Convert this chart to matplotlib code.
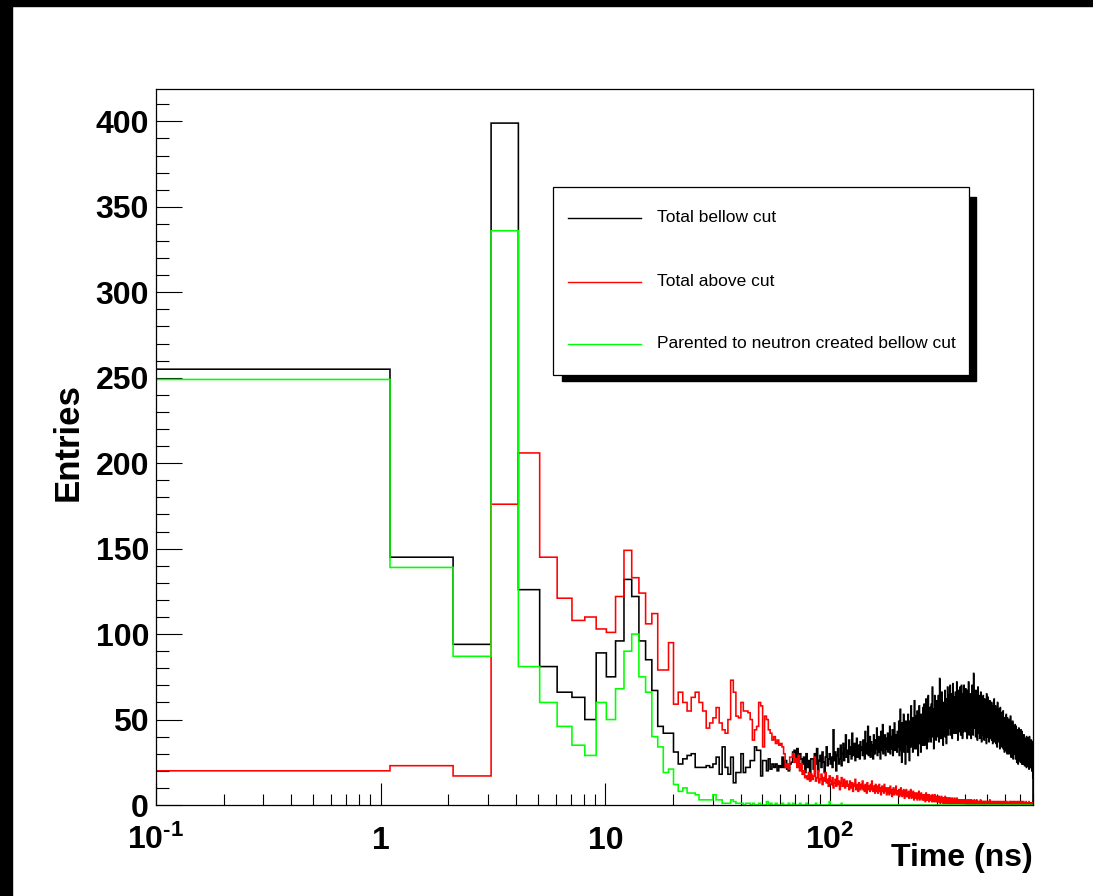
import numpy as np
import matplotlib
matplotlib.use("Agg")
import matplotlib.pyplot as plt
from matplotlib.patches import Rectangle
from matplotlib.lines import Line2D

plt.rcParams["font.family"] = ["Liberation Sans", "DejaVu Sans"]
plt.rcParams["mathtext.fontset"] = "custom"
plt.rcParams["mathtext.rm"] = "Liberation Sans:bold"
plt.rcParams["mathtext.it"] = "Liberation Sans:bold"
plt.rcParams["mathtext.bf"] = "Liberation Sans:bold"

# 1 ns wide bins starting at 0.1 ns
t_start = 0.1
t_bin = 1.0

series_names = [
    "Total bellow cut",
    "Total above cut",
    "Parented to neutron created bellow cut",
]
series_colors = ["black", "#ff0000", "#00ff00"]

black_counts = [
    255, 145, 94, 399, 126, 81, 66, 63, 50, 89, 75, 96, 132, 122, 96, 85, 67, 46, 42, 42,
    31, 24, 27, 29, 30, 22, 22, 22, 23, 22, 24, 28, 18, 34, 22, 18, 28, 13, 19, 19,
    30, 19, 22, 22, 26, 26, 34, 32, 32, 17, 26, 26, 20, 27, 21, 24, 22, 24, 20, 23,
    22, 28, 22, 26, 21, 20, 24, 25, 31, 32, 28, 33, 24, 30, 27, 24, 28, 19, 30, 22,
    26, 18, 27, 27, 21, 30, 24, 33, 20, 26, 29, 22, 31, 25, 19, 28, 34, 23, 27, 30,
    24, 28, 22, 44, 26, 31, 20, 29, 33, 24, 27, 35, 23, 30, 36, 26, 33, 41, 28, 32,
    25, 38, 30, 34, 27, 42, 29, 33, 36, 26, 31, 39, 28, 35, 30, 27, 37, 32, 34, 29,
    38, 31, 27, 43, 35, 30, 36, 46, 29, 33, 40, 28, 37, 32, 35, 27, 41, 34, 30, 38,
    33, 45, 29, 36, 40, 31, 38, 27, 43, 35, 32, 47, 30, 37, 34, 41, 29, 36, 39, 33,
    42, 31, 38, 35, 46, 30, 40, 36, 33, 44, 29, 39, 37, 48, 32, 41, 35, 38, 31, 43,
    34, 41, 49, 29, 37, 56, 32, 42, 25, 48, 39, 34, 53, 31, 44, 37, 24, 49, 41, 36,
    44, 31, 53, 38, 43, 26, 49, 40, 34, 58, 36, 46, 41, 31, 51, 44, 38, 61, 33, 48,
    38, 52, 33, 45, 55, 41, 29, 48, 40, 58, 36, 46, 43, 31, 53, 45, 38, 50, 35, 57,
    40, 47, 59, 35, 50, 43, 38, 62, 45, 33, 54, 42, 48, 64, 37, 47, 52, 40, 57, 43,
    49, 37, 59, 45, 52, 69, 40, 47, 56, 33, 50, 44, 64, 42, 54, 49, 38, 61, 47, 52,
    44, 56, 40, 64, 49, 37, 52, 74, 46, 51, 59, 39, 54, 47, 66, 42, 51, 57, 35, 56,
    48, 60, 43, 52, 67, 40, 55, 47, 62, 36, 50, 58, 45, 69, 48, 53, 41, 64, 50, 45,
    56, 46, 70, 49, 41, 61, 53, 48, 65, 39, 54, 51, 71, 44, 60, 49, 42, 63, 53, 58,
    47, 66, 54, 42, 61, 50, 72, 45, 57, 52, 38, 64, 54, 49, 67, 43, 59, 55, 47, 69,
    50, 41, 62, 53, 70, 46, 56, 51, 39, 65, 55, 48, 60, 43, 70, 51, 56, 44, 63, 53,
    48, 68, 43, 58, 53, 46, 62, 39, 67, 55, 50, 60, 44, 72, 51, 56, 41, 63, 53, 48,
    58, 44, 65, 51, 39, 61, 55, 48, 70, 43, 56, 50, 63, 41, 53, 77, 46, 60, 51, 67,
    45, 55, 49, 62, 40, 59, 52, 67, 43, 54, 47, 61, 38, 57, 50, 69, 42, 54, 49, 64,
    44, 58, 53, 39, 63, 49, 54, 42, 66, 48, 56, 51, 37, 61, 53, 46, 60, 41, 54, 49,
    64, 43, 53, 48, 59, 38, 52, 62, 45, 55, 50, 40, 60, 47, 57, 53, 36, 65, 48, 52,
    44, 56, 51, 40, 63, 47, 54, 42, 59, 49, 37, 58, 46, 52, 61, 39, 51, 47, 56, 44,
    53, 41, 50, 60, 38, 48, 57, 45, 51, 36, 55, 46, 58, 43, 50, 40, 53, 62, 45, 48,
    43, 53, 37, 48, 58, 44, 49, 36, 54, 46, 41, 56, 44, 51, 34, 48, 60, 43, 46, 39,
    50, 42, 45, 56, 37, 47, 40, 52, 44, 33, 49, 45, 57, 38, 47, 42, 54, 35, 45, 44,
    40, 50, 43, 34, 53, 45, 38, 48, 41, 55, 33, 46, 43, 36, 51, 41, 45, 31, 50, 40,
    47, 39, 35, 49, 42, 32, 46, 41, 53, 37, 44, 34, 47, 39, 30, 51, 41, 35, 46, 42,
    35, 45, 40, 50, 37, 30, 43, 38, 48, 33, 42, 37, 47, 32, 40, 52, 35, 43, 38, 28,
    43, 38, 48, 34, 41, 29, 44, 36, 39, 49, 32, 43, 38, 27, 46, 34, 41, 36, 31, 44,
    39, 34, 44, 30, 40, 35, 47, 32, 37, 27, 42, 39, 34, 46, 30, 37, 40, 25, 35, 44,
    33, 40, 29, 36, 43, 31, 35, 24, 38, 41, 33, 28, 45, 35, 31, 40, 26, 36, 29, 38,
    36, 29, 41, 32, 25, 37, 34, 44, 31, 27, 39, 32, 36, 24, 43, 34, 29, 37, 32, 41,
    28, 36, 31, 40, 24, 35, 30, 38, 33, 26, 41, 31, 28, 36, 23, 33, 38, 30, 35, 26,
    37, 30, 34, 25, 39, 29, 35, 32, 22, 40, 30, 27, 35, 34, 23, 37, 29, 32, 25, 39,
    33, 28, 36, 29, 24, 38, 31, 34, 21, 33, 29, 40, 26, 31, 36, 28, 22, 34, 29, 33,
    27, 35, 30, 22, 33, 28, 38, 25, 32, 30, 20, 35, 28, 32, 23, 37, 27, 30, 16, 32,
]

red_counts = [
    20, 23, 17, 176, 206, 145, 121, 108, 110, 103, 101, 122, 149, 133, 124, 106, 112, 79, 79, 95,
    59, 66, 60, 55, 63, 66, 60, 55, 45, 48, 51, 57, 48, 44, 42, 50, 73, 66, 52, 51,
    60, 55, 55, 54, 50, 38, 44, 46, 60, 58, 34, 52, 50, 44, 42, 38, 40, 36, 38, 35,
    36, 34, 30, 22, 24, 21, 28, 28, 30, 25, 27, 22, 29, 20, 24, 18, 20, 16, 17, 15,
    19, 14, 18, 15, 17, 28, 14, 16, 20, 13, 15, 18, 12, 16, 14, 19, 13, 15, 11, 17,
    14, 12, 16, 10, 13, 15, 11, 17, 12, 14, 9, 13, 16, 11, 12, 15, 10, 13, 14, 11,
    12, 9, 14, 11, 10, 13, 8, 12, 11, 15, 9, 10, 12, 8, 13, 11, 9, 12, 10, 14,
    9, 11, 8, 12, 10, 7, 13, 9, 11, 10, 8, 12, 9, 14, 10, 8, 11, 9, 7, 12,
    10, 8, 11, 7, 9, 12, 8, 10, 6, 9, 11, 8, 10, 7, 12, 9, 8, 10, 6, 9,
    7, 10, 8, 6, 9, 11, 7, 8, 5, 9, 8, 10, 6, 7, 9, 8, 11, 6, 8, 7,
    8, 6, 9, 5, 7, 8, 10, 6, 7, 5, 8, 6, 9, 7, 4, 8, 6, 7, 9, 5,
    7, 5, 6, 8, 4, 6, 7, 5, 9, 6, 4, 7, 5, 6, 8, 5, 3, 6, 7, 5,
    4, 6, 5, 7, 3, 5, 6, 4, 8, 5, 3, 6, 4, 5, 7, 4, 5, 3, 6, 4,
    5, 3, 6, 4, 5, 2, 4, 7, 3, 5, 4, 6, 3, 4, 5, 2, 6, 4, 3, 5,
    4, 3, 5, 2, 4, 6, 3, 4, 2, 5, 3, 4, 6, 3, 2, 4, 5, 3, 4, 2,
    3, 5, 2, 4, 3, 2, 5, 3, 4, 1, 3, 4, 2, 5, 3, 2, 4, 3, 1, 4,
    3, 2, 4, 1, 3, 5, 2, 3, 2, 4, 1, 3, 2, 4, 3, 1, 2, 3, 4, 2,
    3, 1, 2, 4, 2, 3, 1, 2, 3, 2, 4, 1, 2, 3, 2, 1, 3, 2, 4, 2,
    1, 3, 2, 2, 1, 3, 2, 4, 1, 2, 3, 1, 2, 2, 3, 1, 2, 1, 3, 2,
    2, 1, 3, 1, 2, 2, 1, 3, 2, 1, 2, 3, 1, 2, 1, 2, 3, 1, 2, 1,
    2, 1, 1, 3, 0, 2, 1, 2, 1, 0, 2, 3, 1, 1, 2, 0, 1, 2, 1, 3,
    1, 2, 0, 1, 2, 1, 3, 1, 0, 2, 1, 1, 2, 0, 1, 2, 1, 0, 3, 1,
    2, 0, 1, 1, 2, 1, 0, 2, 1, 3, 1, 0, 1, 2, 1, 1, 0, 2, 1, 1,
    0, 1, 2, 1, 0, 1, 1, 3, 0, 1, 2, 1, 0, 1, 2, 0, 1, 1, 0, 2,
    1, 0, 1, 2, 1, 0, 1, 1, 2, 0, 1, 0, 2, 1, 1, 0, 1, 2, 0, 1,
    1, 1, 0, 2, 0, 1, 1, 0, 1, 2, 0, 1, 1, 0, 3, 1, 0, 1, 1, 0,
    2, 1, 0, 1, 1, 0, 1, 2, 0, 1, 1, 0, 1, 1, 2, 0, 0, 1, 1, 0,
    1, 0, 2, 1, 0, 1, 0, 1, 1, 0, 2, 1, 0, 1, 0, 1, 1, 0, 1, 2,
    0, 1, 1, 0, 1, 0, 2, 1, 0, 1, 1, 0, 1, 0, 1, 2, 0, 1, 0, 1,
    1, 0, 1, 1, 0, 2, 0, 1, 0, 1, 1, 0, 0, 1, 2, 1, 0, 1, 1, 0,
    0, 1, 0, 2, 1, 0, 1, 1, 0, 1, 0, 1, 2, 0, 1, 0, 1, 1, 0, 1,
    1, 0, 1, 0, 1, 1, 0, 2, 0, 1, 0, 1, 1, 0, 1, 0, 2, 1, 0, 1,
    0, 1, 1, 0, 0, 1, 2, 0, 1, 0, 1, 1, 0, 1, 0, 1, 0, 2, 1, 0,
    1, 0, 1, 1, 0, 1, 0, 0, 2, 1, 0, 1, 0, 1, 1, 0, 1, 0, 1, 0,
    0, 2, 0, 1, 0, 1, 1, 0, 1, 0, 0, 1, 2, 0, 1, 0, 1, 0, 0, 1,
    1, 0, 1, 0, 2, 0, 1, 0, 1, 1, 0, 0, 1, 0, 1, 2, 0, 1, 0, 1,
    0, 1, 0, 1, 0, 1, 0, 2, 0, 1, 0, 1, 0, 0, 1, 1, 0, 1, 0, 0,
    1, 0, 0, 1, 1, 0, 2, 0, 1, 0, 0, 1, 0, 1, 0, 0, 1, 1, 0, 1,
    0, 1, 0, 0, 1, 0, 1, 0, 2, 0, 1, 0, 0, 1, 0, 1, 0, 0, 1, 0,
    1, 0, 1, 0, 0, 1, 0, 1, 0, 0, 1, 0, 1, 0, 0, 1, 0, 0, 1, 0,
]

green_counts = [
    249, 139, 87, 336, 81, 60, 46, 35, 29, 60, 50, 68, 90, 100, 75, 66, 40, 34, 19, 21,
    12, 8, 10, 7, 7, 6, 3, 3, 3, 3, 6, 3, 3, 1, 1, 1, 3, 2, 1, 1,
    1, 0, 1, 1, 0, 1, 0, 0, 1, 0, 0, 0, 2, 0, 1, 0, 0, 1, 0, 0,
    0, 1, 0, 0, 0, 1, 0, 0, 1, 0, 0, 0, 0, 1, 0, 0, 0, 0, 1, 0,
    0, 0, 0, 0, 0, 0, 1, 0, 0, 0, 0, 0, 0, 0, 0, 0, 0, 0, 0, 2,
    0, 0, 0, 0, 0, 0, 0, 0, 0, 0, 0, 0, 1, 0, 0, 0, 0, 0, 0, 0,
    0, 0, 0, 0, 0, 0, 0, 0, 0, 0, 0, 0, 0, 0, 0, 0, 0, 0, 0, 0,
    0, 0, 0, 0, 0, 0, 0, 0, 0, 0, 0, 0, 0, 0, 0, 0, 0, 0, 0, 0,
    0, 0, 0, 0, 0, 0, 0, 0, 0, 0, 0, 0, 0, 0, 0, 0, 0, 0, 0, 0,
    0, 0, 0, 0, 0, 0, 0, 0, 0, 0, 0, 0, 0, 0, 0, 0, 0, 0, 0, 0,
    0, 0, 0, 0, 0, 0, 0, 0, 0, 0, 0, 0, 0, 0, 0, 0, 0, 0, 0, 0,
    0, 0, 0, 0, 0, 0, 0, 0, 0, 0, 0, 0, 0, 0, 0, 0, 0, 0, 0, 0,
    0, 0, 0, 0, 0, 0, 0, 0, 0, 0, 0, 0, 0, 0, 0, 0, 0, 0, 0, 0,
    0, 0, 0, 0, 0, 0, 0, 0, 0, 0, 0, 0, 0, 0, 0, 0, 0, 0, 0, 0,
    0, 0, 0, 0, 0, 0, 0, 0, 0, 0, 0, 0, 0, 0, 0, 0, 0, 0, 0, 0,
    0, 0, 0, 0, 0, 0, 0, 0, 0, 0, 0, 0, 0, 0, 0, 0, 0, 0, 0, 0,
    0, 0, 0, 0, 0, 0, 0, 0, 0, 0, 0, 0, 0, 0, 0, 0, 0, 0, 0, 0,
    0, 0, 0, 0, 0, 0, 0, 0, 0, 0, 0, 0, 0, 0, 0, 0, 0, 0, 0, 0,
    0, 0, 0, 0, 0, 0, 0, 0, 0, 0, 0, 0, 0, 0, 0, 0, 0, 0, 0, 0,
    0, 0, 0, 0, 0, 0, 0, 0, 0, 0, 0, 0, 0, 0, 0, 0, 0, 0, 0, 0,
    0, 0, 0, 0, 0, 0, 0, 0, 0, 0, 0, 0, 0, 0, 0, 0, 0, 0, 0, 0,
    0, 0, 0, 0, 0, 0, 0, 0, 0, 0, 0, 0, 0, 0, 0, 0, 0, 0, 0, 0,
    0, 0, 0, 0, 0, 0, 0, 0, 0, 0, 0, 0, 0, 0, 0, 0, 0, 0, 0, 0,
    0, 0, 0, 0, 0, 0, 0, 0, 0, 0, 0, 0, 0, 0, 0, 0, 0, 0, 0, 0,
    0, 0, 0, 0, 0, 0, 0, 0, 0, 0, 0, 0, 0, 0, 0, 0, 0, 0, 0, 0,
    0, 0, 0, 0, 0, 0, 0, 0, 0, 0, 0, 0, 0, 0, 0, 0, 0, 0, 0, 0,
    0, 0, 0, 0, 0, 0, 0, 0, 0, 0, 0, 0, 0, 0, 0, 0, 0, 0, 0, 0,
    0, 0, 0, 0, 0, 0, 0, 0, 0, 0, 0, 0, 0, 0, 0, 0, 0, 0, 0, 0,
    0, 0, 0, 0, 0, 0, 0, 0, 0, 0, 0, 0, 0, 0, 0, 0, 0, 0, 0, 0,
    0, 0, 0, 0, 0, 0, 0, 0, 0, 0, 0, 0, 0, 0, 0, 0, 0, 0, 0, 0,
    0, 0, 0, 0, 0, 0, 0, 0, 0, 0, 0, 0, 0, 0, 0, 0, 0, 0, 0, 0,
    0, 0, 0, 0, 0, 0, 0, 0, 0, 0, 0, 0, 0, 0, 0, 0, 0, 0, 0, 0,
    0, 0, 0, 0, 0, 0, 0, 0, 0, 0, 0, 0, 0, 0, 0, 0, 0, 0, 0, 0,
    0, 0, 0, 0, 0, 0, 0, 0, 0, 0, 0, 0, 0, 0, 0, 0, 0, 0, 0, 0,
    0, 0, 0, 0, 0, 0, 0, 0, 0, 0, 0, 0, 0, 0, 0, 0, 0, 0, 0, 0,
    0, 0, 0, 0, 0, 0, 0, 0, 0, 0, 0, 0, 0, 0, 0, 0, 0, 0, 0, 0,
    0, 0, 0, 0, 0, 0, 0, 0, 0, 0, 0, 0, 0, 0, 0, 0, 0, 0, 0, 0,
    0, 0, 0, 0, 0, 0, 0, 0, 0, 0, 0, 0, 0, 0, 0, 0, 0, 0, 0, 0,
    0, 0, 0, 0, 0, 0, 0, 0, 0, 0, 0, 0, 0, 0, 0, 0, 0, 0, 0, 0,
    0, 0, 0, 0, 0, 0, 0, 0, 0, 0, 0, 0, 0, 0, 0, 0, 0, 0, 0, 0,
]

x_ticks = [0.1, 1, 10, 100]
x_tick_labels = [r"$10^{\text{-}1}$", "1", "10", r"$10^{2}$"]
y_ticks = [0, 50, 100, 150, 200, 250, 300, 350, 400]
x_title = "Time (ns)"
y_title = "Entries"

W, H = 1093, 896


def fx(px):
    return px / W


def fy(py):
    return 1 - py / H


def main():
    fig = plt.figure(figsize=(W / 100, H / 100), dpi=100)
    # black frame strips on top and left of the canvas
    fig.add_artist(Rectangle((0, fy(6)), 1, 6 / H, transform=fig.transFigure,
                             color="black", zorder=0))
    fig.add_artist(Rectangle((0, 0), fx(12), 1, transform=fig.transFigure,
                             color="black", zorder=0))

    ax = fig.add_axes([fx(156), fy(805), (1033 - 156) / W, (805 - 89) / H])
    ax.set_zorder(1)
    edges = t_start + t_bin * np.arange(len(black_counts) + 1)
    for counts, color in zip([black_counts, red_counts, green_counts], series_colors):
        ax.stairs(counts, edges, baseline=0, color=color, lw=1.15, zorder=2)

    ax.set_xscale("log")
    ax.set_xlim(edges[0], edges[-1])
    ax.set_ylim(0, 1.05 * max(black_counts))

    ax.set_xticks(x_ticks, x_tick_labels)
    ax.set_xticks([m * 10.0 ** e for e in range(-1, 3) for m in range(2, 10)
                   if m * 10.0 ** e < edges[-1]], minor=True)
    ax.set_yticks(y_ticks)
    ax.set_yticks(np.arange(0, 420, 10), minor=True)

    ax.tick_params(axis="both", which="both", direction="in", width=0.8,
                   top=False, right=False, labelsize=23)
    ax.tick_params(axis="x", which="major", length=15.5, pad=32)
    ax.tick_params(axis="x", which="minor", length=7.7)
    ax.tick_params(axis="y", which="major", length=18.4, pad=5)
    ax.tick_params(axis="y", which="minor", length=9.2)
    for lbl in ax.get_xticklabels() + ax.get_yticklabels():
        lbl.set_fontweight("bold")
    for lbl in ax.get_xticklabels():
        lbl.set_verticalalignment("baseline")
    for sp in ax.spines.values():
        sp.set_linewidth(0.9)

    ax.set_xlabel(x_title, fontsize=23, fontweight="bold", loc="right")
    ax.xaxis.set_label_coords(1.0, -0.053)
    ax.set_ylabel(y_title, fontsize=25, fontweight="bold")
    ax.yaxis.set_label_coords(-0.081, 0.507)

    # ROOT style legend box with hard shadow
    fig.add_artist(Rectangle((fx(562), fy(381)), (976 - 562) / W, (381 - 197) / H,
                             transform=fig.transFigure, color="black", zorder=5))
    fig.add_artist(Rectangle((fx(553), fy(375)), (969 - 553) / W, (375 - 187) / H,
                             transform=fig.transFigure, facecolor="white",
                             edgecolor="black", lw=0.9, zorder=6))
    for name, color, row_y in zip(series_names, series_colors, [218, 282, 344]):
        fig.add_artist(Line2D([fx(568), fx(641)], [fy(row_y), fy(row_y)],
                              transform=fig.transFigure, color=color, lw=1.0, zorder=7))
        fig.text(fx(657), fy(row_y), name, fontsize=12.5, va="center", ha="left",
                 zorder=7)

    fig.savefig("out.png", dpi=100)
    plt.close(fig)


if __name__ == "__main__":
    main()
